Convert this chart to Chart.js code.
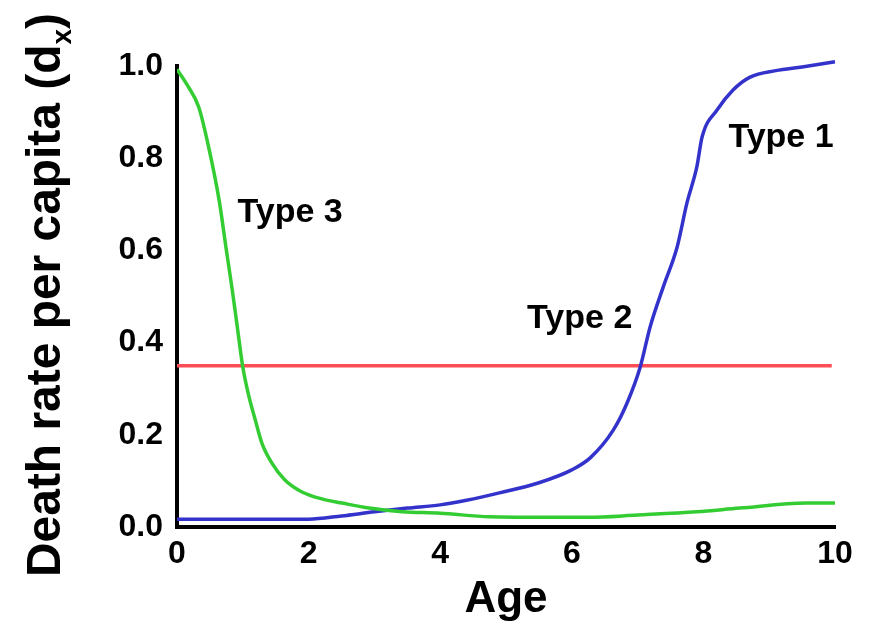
<!DOCTYPE html>
<html>
<head>
<meta charset="utf-8">
<script src="https://cdn.jsdelivr.net/npm/chart.js@4"></script>
<style>
  html, body { margin: 0; padding: 0; background: #fff; }
  #wrap { width: 879px; height: 621px; }
</style>
</head>
<body>
<div id="wrap"><canvas id="canvas"></canvas></div>
<script>
// survivorship curves, values
const ages3 = [0, 0.15, 0.33, 0.49, 0.64, 0.75, 0.84, 0.92, 1.0, 1.08, 1.19, 1.29, 1.44, 1.64, 1.9, 2.2, 2.51, 2.92, 3.42, 4.0, 4.75, 5.5, 6.25, 7.0, 7.9, 8.55, 9.57, 10];
const type3 = [0.993, 0.96, 0.911, 0.818, 0.709, 0.601, 0.514, 0.43, 0.347, 0.291, 0.232, 0.182, 0.139, 0.102, 0.076, 0.061, 0.052, 0.041, 0.033, 0.030, 0.022, 0.021, 0.021, 0.026, 0.033, 0.041, 0.052, 0.052];

const ages1 = [0, 2.0, 2.5, 3.0, 3.5, 4.0, 4.4, 4.9, 5.5, 6.0, 6.28, 6.63, 6.84, 7.04, 7.19, 7.39, 7.6, 7.75, 7.9, 7.98, 8.21, 8.45, 8.71, 9.1, 9.5, 10];
const type1 = [0.017, 0.017, 0.024, 0.033, 0.041, 0.048, 0.058, 0.074, 0.096, 0.124, 0.15, 0.21, 0.269, 0.347, 0.434, 0.521, 0.607, 0.703, 0.781, 0.846, 0.905, 0.948, 0.976, 0.99, 0.998, 1.009];

const ages2 = [0, 9.95];
const type2 = [0.35, 0.35];

const labelTexts = ['Type 3', 'Type 2', 'Type 1'];
const labelX = [1.72, 6.12, 9.18];
const labelY = [0.681, 0.453, 0.844];

const xTicks = [0, 2, 4, 6, 8, 10];
const yTicks = [0, 0.2, 0.4, 0.6, 0.8, 1.0];

function pts(xs, ys) {
  return xs.map((x, i) => ({ x: x, y: ys[i] }));
}

const FONT = '"Liberation Sans", Arial, sans-serif';

// "Type n" labels placed through the scales
const typeLabels = {
  id: 'typeLabels',
  afterDatasetsDraw(chart) {
    const c = chart.ctx;
    const sx = chart.scales.x, sy = chart.scales.y;
    c.save();
    c.font = 'bold 34px ' + FONT;
    c.fillStyle = '#000';
    c.textAlign = 'center';
    c.textBaseline = 'middle';
    labelTexts.forEach((t, i) => {
      c.fillText(t, sx.getPixelForValue(labelX[i]), sy.getPixelForValue(labelY[i]));
    });
    c.restore();
  }
};

// y title with subscript x
const yTitle = {
  id: 'yTitle',
  afterDraw(chart) {
    const c = chart.ctx;
    const main = 'Death rate per capita (d';
    c.save();
    c.fillStyle = '#000';
    c.font = 'bold 48px ' + FONT;
    const w1 = c.measureText(main).width;
    const w3 = c.measureText(')').width;
    c.font = 'bold 28px ' + FONT;
    const w2 = c.measureText('x').width;
    const total = w1 + w2 + w3;
    const k = 564 / total;
    c.translate(60, 577);
    c.rotate(-Math.PI / 2);
    c.scale(k, 1);
    c.textAlign = 'left';
    c.textBaseline = 'alphabetic';
    c.font = 'bold 48px ' + FONT;
    c.fillText(main, 0, 0);
    c.font = 'bold 28px ' + FONT;
    c.fillText('x', w1, 11);
    c.font = 'bold 48px ' + FONT;
    c.fillText(')', w1 + w2, 0);
    c.restore();
  }
};

let ctx = document.getElementById('canvas').getContext('2d');

const data = {
  datasets: [{
    label: 'Type 3',
    data: pts(ages3, type3),
    borderColor: '#33cc33',
    borderWidth: 3.5,
    cubicInterpolationMode: 'monotone'
  }, {
    label: 'Type 1',
    data: pts(ages1, type1),
    borderColor: '#3333cc',
    borderWidth: 3.5,
    clip: 8,
    cubicInterpolationMode: 'monotone'
  }, {
    label: 'Type 2',
    data: pts(ages2, type2),
    borderColor: '#ff4d55',
    borderWidth: 3.5
  }]
};

const options = {
  responsive: true,
  maintainAspectRatio: false,
  animation: false,
  layout: { padding: { top: 66, right: 44, left: 0, bottom: 0 } },
  elements: { point: { radius: 0 } },
  plugins: {
    legend: { display: false },
    tooltip: { enabled: false }
  },
  scales: {
    x: {
      type: 'linear',
      min: 0,
      max: 10,
      afterFit(s) { s.height = 94; },
      afterBuildTicks(s) { s.ticks = xTicks.map(v => ({ value: v })); },
      grid: { display: false, drawTicks: false },
      border: { display: true, color: '#000', width: 4 },
      ticks: {
        color: '#000',
        padding: 8,
        maxRotation: 0,
        font: { family: FONT, size: 32, weight: 'bold' }
      },
      title: {
        display: true,
        text: 'Age',
        color: '#000',
        padding: { top: 0, bottom: -5 },
        font: { family: FONT, size: 44, weight: 'bold' }
      }
    },
    y: {
      min: 0,
      max: 1,
      afterFit(s) { s.width = 177; },
      afterBuildTicks(s) { s.ticks = yTicks.map(v => ({ value: v })); },
      grid: { display: false, drawTicks: false },
      border: { display: true, color: '#000', width: 4 },
      ticks: {
        color: '#000',
        padding: 14,
        font: { family: FONT, size: 32, weight: 'bold' },
        callback: v => v.toFixed(1)
      }
    }
  }
};

new Chart(ctx, {
  type: 'line',
  data: data,
  options: options,
  plugins: [typeLabels, yTitle]
});
</script>
</body>
</html>
